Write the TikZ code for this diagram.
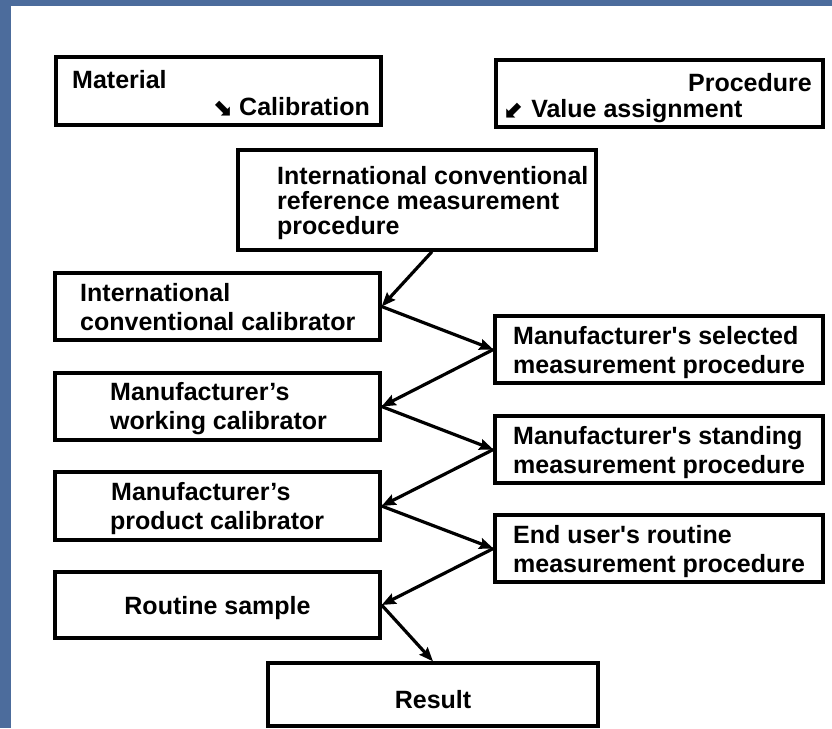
\documentclass[tikz,border=0pt]{standalone}
\usepackage{fontspec}
\setmainfont{Liberation Sans}
\newfontfamily\symfont{DejaVu Sans}
\usetikzlibrary{arrows.meta,calc}
\definecolor{frameblue}{RGB}{76,108,156}

\begin{document}
\begin{tikzpicture}[x=1pt,y=-1pt,
  box/.style={draw=black, line width=3.3pt, inner sep=0pt, fill=white},
  lbl/.style={anchor=base west, inner sep=0pt,
              font=\bfseries\fontsize{25}{28}\selectfont},
  flow/.style={line width=3.2pt, -{Stealth[length=14pt,width=11pt,inset=2pt]}}]

% page: blue frame with white sheet
\useasboundingbox (0,0) rectangle (832,728);
\fill[frameblue] (0,0) rectangle (832,728);
\fill[white] (11,6) rectangle (832,728);

% legend boxes
\node[box, minimum width=325pt, minimum height=68pt] (mat) at (218.5,91) {};
\node[box, minimum width=327pt, minimum height=67pt] (proc) at (659.5,93.5) {};
\node[lbl] (matT) at (72,88) {Material};
\node[lbl, anchor=base east] (calT) at (370,115) {{\symfont\fontsize{24}{26}\selectfont ⬊}\ Calibration};
\node[lbl, anchor=base east] (procT) at (812,91) {Procedure};
\node[lbl] (valT) at (504,117) {{\symfont\fontsize{24}{26}\selectfont ⬋}\ Value assignment};

% top procedure
\node[box, minimum width=358pt, minimum height=100pt] (top) at (417,200) {};
\node[lbl] (topA) at (277,184) {International conventional};
\node[lbl] (topB) at (277,209) {reference measurement};
\node[lbl] (topC) at (277,234) {procedure};

% calibrators (left column)
\node[box, minimum width=325pt, minimum height=67pt] (icc) at (217.5,306.5) {};
\node[lbl] (iccA) at (80,301) {International};
\node[lbl] (iccB) at (80,330) {conventional calibrator};

\node[box, minimum width=325pt, minimum height=67pt] (mwc) at (217.5,406.5) {};
\node[lbl] (mwcA) at (110,400) {Manufacturer’s};
\node[lbl] (mwcB) at (110,429) {working calibrator};

\node[box, minimum width=325pt, minimum height=68pt] (mpc) at (217.5,506) {};
\node[lbl] (mpcA) at (111,500) {Manufacturer’s};
\node[lbl] (mpcB) at (110,529) {product calibrator};

\node[box, minimum width=325pt, minimum height=66pt] (rs) at (217.5,605) {};
\node[lbl, anchor=base] (rsT) at (217.5,614) {Routine sample};

% measurement procedures (right column)
\node[box, minimum width=328pt, minimum height=67pt] (msp) at (659,349.5) {};
\node[lbl] (mspA) at (513,344) {Manufacturer\textquotesingle s selected};
\node[lbl] (mspB) at (513,373) {measurement procedure};

\node[box, minimum width=328pt, minimum height=67pt] (mst) at (659,449.5) {};
\node[lbl] (mstA) at (513,444) {Manufacturer\textquotesingle s standing};
\node[lbl] (mstB) at (513,473) {measurement procedure};

\node[box, minimum width=328pt, minimum height=67pt] (eur) at (659,548.5) {};
\node[lbl] (eurA) at (513,543) {End user\textquotesingle s routine};
\node[lbl] (eurB) at (513,572) {measurement procedure};

% result
\node[box, minimum width=330pt, minimum height=63pt] (res) at (433,694.5) {};
\node[lbl, anchor=base] (resT) at (433,708) {Result};

% traceability chain
\draw[flow] ($(top.south)+(15,0)$) -- (icc.east);
\draw[flow] (icc.east) -- (msp.west);
\draw[flow] (msp.west) -- (mwc.east);
\draw[flow] (mwc.east) -- (mst.west);
\draw[flow] (mst.west) -- (mpc.east);
\draw[flow] (mpc.east) -- (eur.west);
\draw[flow] (eur.west) -- (rs.east);
\draw[flow] (rs.east) -- (res.north);
\end{tikzpicture}
\end{document}
